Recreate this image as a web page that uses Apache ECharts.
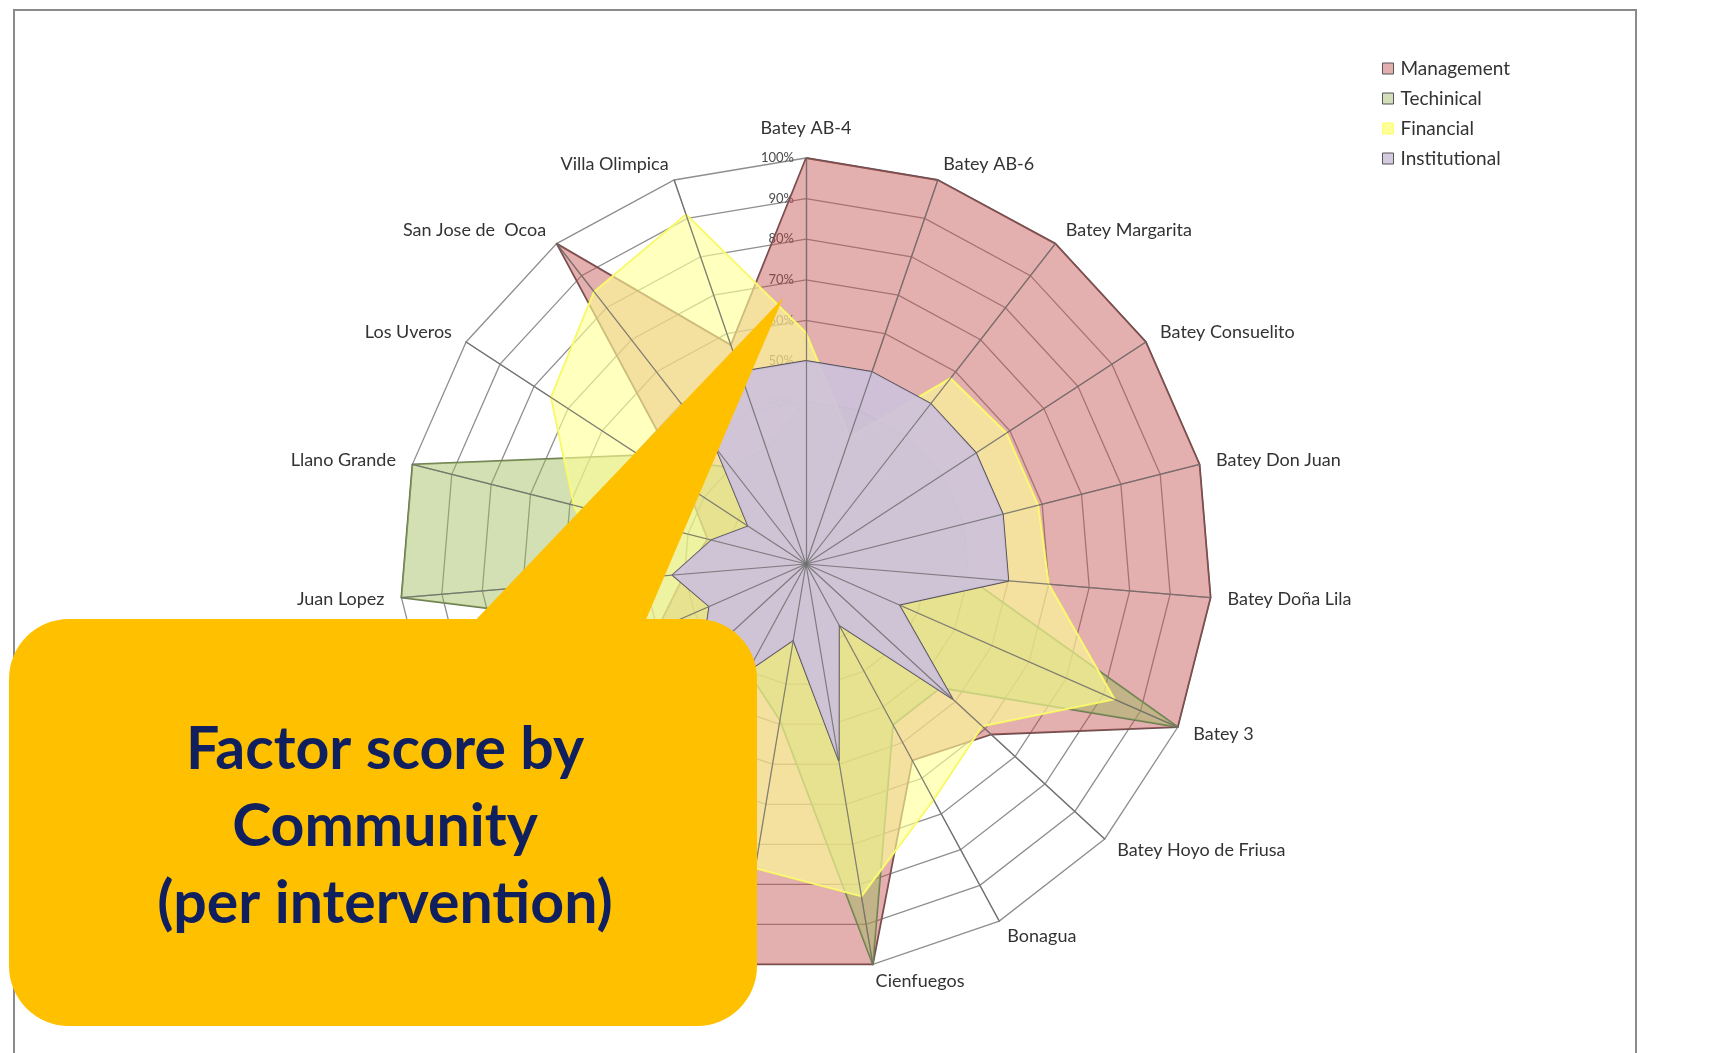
<!DOCTYPE html>
<html><head><meta charset="utf-8">
<script src="https://cdn.jsdelivr.net/npm/echarts@6/dist/echarts.min.js"></script>
<style>html,body{margin:0;padding:0;background:#fff}#c{width:1710px;height:1053px}</style>
</head><body><div id="c"></div>
<script>
// Categories in clockwise order starting at the top (names under the callout are not readable)
const categories = ['Batey AB-4','Batey AB-6','Batey Margarita','Batey Consuelito','Batey Don Juan','Batey Doña Lila','Batey 3','Batey Hoyo de Friusa','Bonagua','Cienfuegos','','','','','Juan Lopez','Llano Grande','Los Uveros','San Jose de  Ocoa','Villa Olimpica'];
const seriesNames = ['Management','Techinical','Financial','Institutional'];
const management    = [100,100,100,100,100,100,100,62,55,100,100,80,60,40,30,25,35,100,57];
const technical     = [40,40,40,40,40,40,100,45,45,100,39,30,30,40,100,100,49,30,30];
const financial     = [57,33,58,59,59,60,83,59,66,83,76,70,60,45,50,59,75,85,91];
const institutional = [50,50,50,50,50,50,25,49,17,49,19,30,35,26,33,24,17,36,50];
const radialTicks = [0,10,20,30,40,50,60,70,80,90,100];

// ECharts places indicators counter-clockwise; reorder so the chart runs clockwise
const n = categories.length;
const ord = [0];
for (let k = 1; k < n; k++) ord.push(n - k);
const pick = arr => ord.map(i => arr[i]);

const indicators = ord.map((i, k) => {
  const o = {name: categories[i], min: 0, max: radialTicks[radialTicks.length-1]};
  if (k !== 0) o.axisLabel = {show: false};
  return o;
});
const overlayIndicators = ord.map(i => ({name: '', min: 0, max: 100}));

const chart = echarts.init(document.getElementById('c'));
const F = 'Lato, "Open Sans", sans-serif';
chart.setOption({
  animation: false,
  legend: {
    orient: 'vertical', left: 1382, top: 59, padding: 0, itemWidth: 11, itemHeight: 11, itemGap: 11,
    icon: 'rect',
    textStyle: {fontFamily: F, fontSize: 19, color: '#333', padding: [0,0,0,2]},
    data: [
      {name: seriesNames[0], itemStyle: {color: '#e3afae', borderColor: '#555', borderWidth: 1}},
      {name: seriesNames[1], itemStyle: {color: '#d3deba', borderColor: '#555', borderWidth: 1}},
      {name: seriesNames[2], itemStyle: {color: '#ffff99', borderColor: '#ffff66', borderWidth: 1}},
      {name: seriesNames[3], itemStyle: {color: '#d4cbe0', borderColor: '#555', borderWidth: 1}}
    ]
  },
  radar: [{
    center: [806, 564], radius: 406, startAngle: 90, shape: 'polygon', splitNumber: 10,
    indicator: indicators,
    axisName: {color: '#333', fontSize: 18, fontFamily: F,
      formatter: name => name === categories[0] ? '{top|' + name + '}' : name,
      rich: {top: {color: '#333', fontSize: 18, fontFamily: F, padding: [0, 0, 4, 0]}}},
    nameGap: 17,
    splitLine: {lineStyle: {color: '#8f8f8f', width: 1.3}},
    splitArea: {show: false},
    axisLine: {lineStyle: {color: '#8f8f8f', width: 1.3}},
    axisTick: {show: false},
    axisLabel: {show: true, formatter: '{value}%', color: '#4a4a4a', fontSize: 13, fontFamily: F, margin: 12},
    z: 0
  }, {
    center: [806, 564], radius: 406, startAngle: 90, shape: 'polygon', splitNumber: 10,
    indicator: overlayIndicators,
    axisName: {show: false},
    splitLine: {show: false}, splitArea: {show: false},
    axisLine: {lineStyle: {color: 'rgba(110,110,110,0.85)', width: 1.2}},
    axisTick: {show: false}, axisLabel: {show: false},
    z: 5
  }],
  series: [{
    type: 'radar', radarIndex: 0, symbol: 'none', z: 2, silent: true,
    data: [
      {name: seriesNames[0], value: pick(management),
        lineStyle: {color: '#6a5050', width: 1.8}, areaStyle: {color: 'rgba(192,80,77,0.45)', opacity: 1}, itemStyle: {color: '#c0504d'}},
      {name: seriesNames[1], value: pick(technical),
        lineStyle: {color: '#6c7a55', width: 1.8}, areaStyle: {color: 'rgba(155,187,89,0.45)', opacity: 1}, itemStyle: {color: '#9bbb59'}},
      {name: seriesNames[2], value: pick(financial),
        lineStyle: {color: '#f6f65a', width: 2}, areaStyle: {color: 'rgba(255,255,150,0.62)', opacity: 1}, itemStyle: {color: '#ffff66'}},
      {name: seriesNames[3], value: pick(institutional),
        lineStyle: {color: '#545058', width: 1.8}, areaStyle: {color: 'rgba(205,194,220,0.93)', opacity: 1}, itemStyle: {color: '#8064a2'}}
    ]
  }],
  graphic: [
    {type: 'rect', z: 50, silent: true, shape: {x: 14, y: 10, width: 1622, height: 1200},
      style: {fill: 'none', stroke: '#8a8a8a', lineWidth: 2}},
    {type: 'rect', z: 100, silent: true, shape: {x: 9, y: 619, width: 748, height: 407, r: 60}, style: {fill: '#ffc000'}},
    {type: 'polygon', z: 100, silent: true, shape: {points: [[447, 650], [783, 298], [633, 650]]}, style: {fill: '#ffc000'}},
    {type: 'text', z: 101, silent: true, x: 385, y: 827, style: {
      text: 'Factor score by\nCommunity\n(per intervention)',
      font: 'bold 59px Lato, "Open Sans", sans-serif', fill: '#10205e',
      align: 'center', verticalAlign: 'middle', lineHeight: 77}}
  ]
});
</script>
</body></html>
